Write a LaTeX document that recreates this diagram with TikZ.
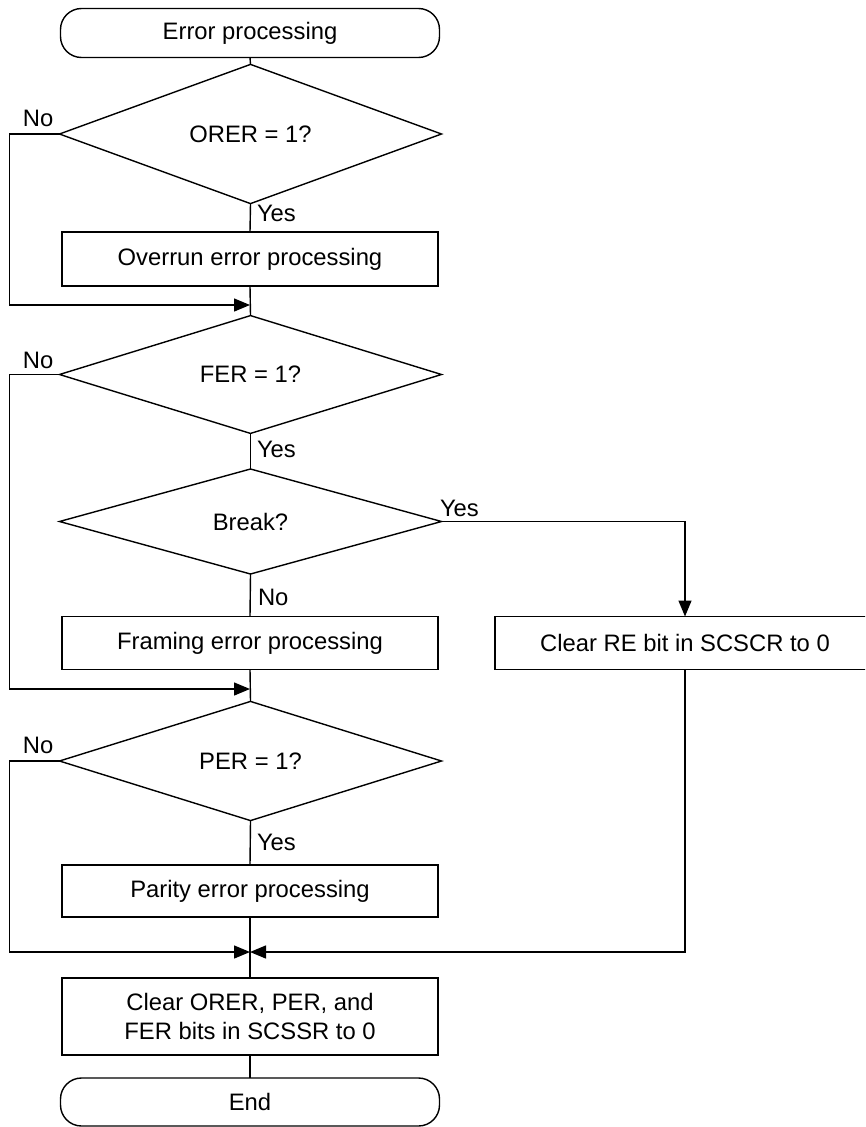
\documentclass[tikz,border=0pt]{standalone}
\usepackage{fontspec}
\setmainfont{Liberation Sans}
\usetikzlibrary{shapes.geometric,arrows.meta}
\begin{document}
\begin{tikzpicture}[x=1pt,y=-1pt,
  every node/.style={font=\fontsize{23.8}{30}\selectfont, inner sep=0pt, outer sep=0pt},
  conn/.style={line width=1.4pt, black},
  arr/.style={conn, -{Triangle[length=16pt,width=13pt]}},
  term/.style={draw, line width=1.4pt, rectangle, rounded corners=21pt, minimum width=379pt, minimum height=49pt},
  dia/.style={draw, line width=1.4pt, diamond, minimum width=382pt, minimum height=106pt},
  procbox/.style={draw, line width=1.4pt, rectangle, minimum width=376pt, minimum height=54pt, align=center},
  lbl/.style={anchor=west}]
\useasboundingbox (0,0) rectangle (865,1127);
\clip (0,0) rectangle (865,1127);

% nodes
\node[term] (start) at (250,33) {Error processing};
\node[dia] (d1) at (250.5,134) {ORER = 1?};
\node[procbox] (b1) at (250,259) {Overrun error processing};
\coordinate (m1) at (250,305);
\node[dia, minimum height=105pt] (d2) at (250.5,374.5) {FER = 1?};
\node[dia, minimum height=105pt] (d3) at (250.5,521.5) {Break?};
\node[procbox, minimum height=53pt] (b2) at (250,643) {Framing error processing};
\node[procbox, minimum width=380pt, minimum height=53pt] (b3) at (685,643) {Clear RE bit in SCSCR to 0};
\coordinate (m2) at (250,689);
\node[dia] (d4) at (250.5,761) {PER = 1?};
\node[procbox, minimum height=52pt] (b4) at (250,891) {Parity error processing};
\coordinate (m3) at (250,952);
\node[procbox, minimum height=77pt] (b5) at (250,1016.5) {Clear ORER, PER, and\\[-0.5pt]FER bits in SCSSR to 0};
\node[term, minimum height=48pt] (end) at (250,1102) {End};

% labels
\node[lbl] (no1) at (23,118) {No};
\node[lbl] (yes1) at (257,213) {Yes};
\node[lbl] (no2) at (23,360) {No};
\node[lbl] (yes2) at (257,449) {Yes};
\node[lbl] (yes3) at (440,508) {Yes};
\node[lbl] (no3) at (258,597) {No};
\node[lbl] (no4) at (23,745) {No};
\node[lbl] (yes4) at (257,842) {Yes};

% connectors
\draw[conn] (start.south) -- (d1.north);
\draw[conn] (d1.south) -- (b1.north);
\draw[conn] (b1.south) -- (d2.north);
\draw[arr] (d1.west) -- ++(-50,0) |- (m1);
\draw[conn] (d2.south) -- (d3.north);
\draw[conn] (d3.south) -- (b2.north);
\draw[arr] (d3.east) -| (b3.north);
\draw[conn] (b2.south) -- (d4.north);
\draw[arr] (d2.west) -- ++(-50,0) |- (m2);
\draw[conn] (d4.south) -- (b4.north);
\draw[conn] (b4.south) -- (b5.north);
\draw[arr] (d4.west) -- ++(-50,0) |- (m3);
\draw[arr] (b3.south) |- (m3);
\draw[conn] (b5.south) -- (end.north);
\end{tikzpicture}
\end{document}
